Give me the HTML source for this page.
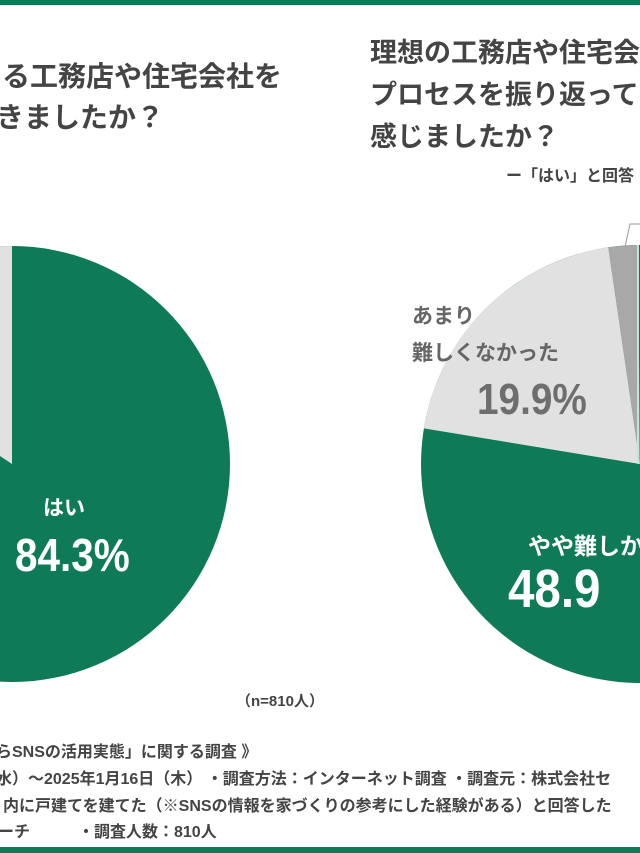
<!DOCTYPE html>
<html><head><meta charset="utf-8"><style>
html,body{margin:0;padding:0;background:#fff;}
body{width:640px;height:853px;overflow:hidden;position:relative;font-family:"Liberation Sans","Noto Sans CJK JP",sans-serif;}
.t{position:absolute;white-space:nowrap;color:#444;font-weight:bold;}
.n{font-family:"Liberation Sans",sans-serif;font-weight:bold;transform:scaleX(0.88);transform-origin:0 0;}
</style></head><body>
<svg width="640" height="853" style="position:absolute;left:0;top:0">
<rect x="0" y="0" width="640" height="5" fill="#0e7a57"/>
<rect x="0" y="847" width="640" height="6" fill="#0e7a57"/>
<circle cx="12" cy="464" r="218" fill="#0e7a57"/>
<path d="M12,464 L12,246 A218,218 0 0,0 -169.8,343.7 Z" fill="#e1e1e1"/>
<circle cx="640" cy="464" r="219" fill="#0e7a57"/>
<path d="M640,464 L423.9,428.4 A219,219 0 0,1 608.3,247.3 Z" fill="#e1e1e1"/>
<path d="M640,464 L608.3,247.3 A219,219 0 0,1 638,245 Z" fill="#a8a8a8"/>
<line x1="638" y1="245" x2="638" y2="464" stroke="#bfe6d6" stroke-width="2"/>
<polyline points="625,247 630,224 640,224" fill="none" stroke="#999" stroke-width="1"/>
</svg>
<div class="t" style="left:2px;top:55px;font-size:28px;">る工務店や住宅会社を</div>
<div class="t" style="left:-4px;top:96px;font-size:28px;">きましたか？</div>
<div class="t" style="left:370px;top:31px;font-size:27px;">理想の工務店や住宅会社</div>
<div class="t" style="left:370px;top:73px;font-size:27px;">プロセスを振り返って</div>
<div class="t" style="left:370px;top:115px;font-size:27px;">感じましたか？</div>
<div class="t" style="left:506px;top:162px;font-size:16px;">ー「はい」と回答</div>
<div class="t" style="left:43px;top:492px;font-size:21px;color:#fff;">はい</div>
<div class="t n" style="left:15px;top:528px;font-size:46px;color:#fff;">84.3%</div>
<div class="t" style="left:412px;top:300px;font-size:21px;color:#666;">あまり</div>
<div class="t" style="left:412px;top:337px;font-size:21px;color:#666;">難しくなかった</div>
<div class="t n" style="left:477px;top:375px;font-size:44px;color:#6e6e6e;">19.9%</div>
<div class="t" style="left:528px;top:527px;font-size:23px;color:#fff;">やや難しか</div>
<div class="t n" style="left:508px;top:558px;font-size:54px;color:#fff;">48.9</div>
<div class="t" style="left:236px;top:690px;font-size:15px;color:#444;">（n=810人）</div>
<div class="t" style="left:-4px;top:738px;font-size:16px;">らSNSの活用実態」に関する調査 》</div>
<div class="t" style="left:-4px;top:765px;font-size:16px;">水）～2025年1月16日（木） ・調査方法：インターネット調査 ・調査元：株式会社セ</div>
<div class="t" style="left:3px;top:792px;font-size:16px;">内に戸建てを建てた（※SNSの情報を家づくりの参考にした経験がある）と回答した</div>
<div class="t" style="left:-2px;top:818px;font-size:16px;">ーチ　　　・調査人数：810人</div>
</body></html>
